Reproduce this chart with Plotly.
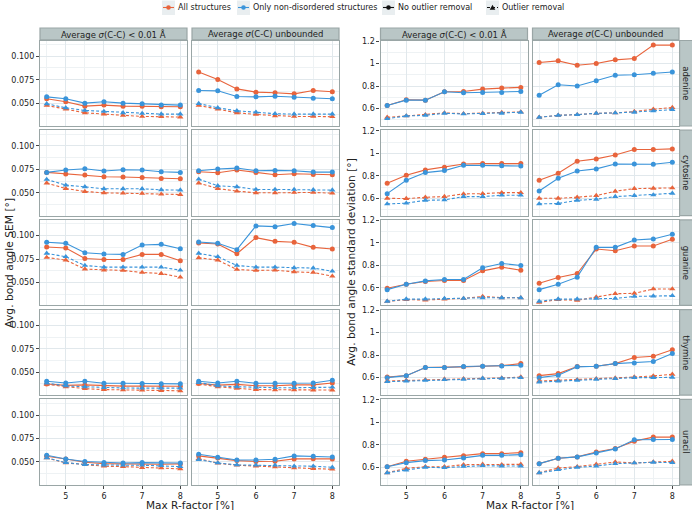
import plotly.graph_objects as go

# ---------------- data ----------------
r_factor = [4.5, 5, 5.5, 6, 6.5, 7, 7.5, 8]
x_ticks = [5, 6, 7, 8]
bases = ["adenine", "cytosine", "guanine", "thymine", "uracil"]
col_titles = ["Average <i>σ</i>(C-C) < 0.01 Å", "Average <i>σ</i>(C-C) unbounded"]
legend_labels = ["All structures", "Only non-disordered structures", "No outlier removal", "Outlier removal"]
sem_ticks = [0.050, 0.075, 0.100]
sd_ticks = [0.6, 0.8, 1.0, 1.2]
sd_ticktext = ["0.6", "0.8", "1", "1.2"]

# SEM: all structures / non-disordered ; raw (no outlier removal) / filt (outlier removal)
sem_ade_c1_all_raw = [0.0546, 0.0514, 0.0468, 0.0479, 0.0468, 0.0468, 0.0461, 0.0461]
sem_ade_c1_nd_raw = [0.0567, 0.0546, 0.0500, 0.0514, 0.0500, 0.0493, 0.0479, 0.0479]
sem_ade_c1_all_filt = [0.0475, 0.0436, 0.0397, 0.0383, 0.0369, 0.0358, 0.0355, 0.0351]
sem_ade_c1_nd_filt = [0.0493, 0.0450, 0.0422, 0.0411, 0.0397, 0.0390, 0.0383, 0.0383]
sem_ade_c2_all_raw = [0.0833, 0.0752, 0.0652, 0.0617, 0.0610, 0.0599, 0.0635, 0.0621]
sem_ade_c2_nd_raw = [0.0635, 0.0631, 0.0571, 0.0567, 0.0574, 0.0564, 0.0553, 0.0546]
sem_ade_c2_all_filt = [0.0475, 0.0436, 0.0397, 0.0379, 0.0365, 0.0358, 0.0358, 0.0355]
sem_ade_c2_nd_filt = [0.0496, 0.0450, 0.0418, 0.0404, 0.0387, 0.0383, 0.0383, 0.0383]

sem_cyt_c1_all_raw = [0.0718, 0.0700, 0.0689, 0.0671, 0.0668, 0.0664, 0.0654, 0.0650]
sem_cyt_c1_nd_raw = [0.0718, 0.0743, 0.0757, 0.0732, 0.0746, 0.0743, 0.0725, 0.0718]
sem_cyt_c1_all_filt = [0.0604, 0.0546, 0.0514, 0.0500, 0.0496, 0.0493, 0.0486, 0.0482]
sem_cyt_c1_nd_filt = [0.0643, 0.0582, 0.0564, 0.0543, 0.0543, 0.0543, 0.0532, 0.0529]
sem_cyt_c2_all_raw = [0.0725, 0.0714, 0.0743, 0.0718, 0.0693, 0.0704, 0.0696, 0.0693]
sem_cyt_c2_nd_raw = [0.0736, 0.0754, 0.0764, 0.0736, 0.0739, 0.0736, 0.0721, 0.0721]
sem_cyt_c2_all_filt = [0.0604, 0.0546, 0.0518, 0.0500, 0.0500, 0.0504, 0.0504, 0.0496]
sem_cyt_c2_nd_filt = [0.0646, 0.0575, 0.0564, 0.0536, 0.0536, 0.0536, 0.0532, 0.0529]

sem_gua_c1_all_raw = [0.0879, 0.0868, 0.0757, 0.0746, 0.0746, 0.0800, 0.0800, 0.0732]
sem_gua_c1_nd_raw = [0.0929, 0.0918, 0.0818, 0.0804, 0.0800, 0.0900, 0.0907, 0.0861]
sem_gua_c1_all_filt = [0.0768, 0.0739, 0.0643, 0.0632, 0.0629, 0.0607, 0.0596, 0.0557]
sem_gua_c1_nd_filt = [0.0811, 0.0775, 0.0682, 0.0664, 0.0664, 0.0664, 0.0664, 0.0632]
sem_gua_c2_all_raw = [0.0921, 0.0911, 0.0807, 0.0979, 0.0939, 0.0929, 0.0875, 0.0857]
sem_gua_c2_nd_raw = [0.0932, 0.0918, 0.0850, 0.1104, 0.1096, 0.1130, 0.1107, 0.1086]
sem_gua_c2_all_filt = [0.0764, 0.0739, 0.0639, 0.0629, 0.0632, 0.0614, 0.0607, 0.0568]
sem_gua_c2_nd_filt = [0.0811, 0.0775, 0.0682, 0.0664, 0.0664, 0.0657, 0.0654, 0.0621]

sem_thy_c1_all_raw = [0.0375, 0.0360, 0.0365, 0.0355, 0.0352, 0.0352, 0.0350, 0.0350]
sem_thy_c1_nd_raw = [0.0404, 0.0385, 0.0404, 0.0383, 0.0382, 0.0379, 0.0376, 0.0376]
sem_thy_c1_all_filt = [0.0370, 0.0345, 0.0325, 0.0315, 0.0312, 0.0310, 0.0305, 0.0302]
sem_thy_c1_nd_filt = [0.0385, 0.0355, 0.0345, 0.0335, 0.0332, 0.0330, 0.0330, 0.0330]
sem_thy_c2_all_raw = [0.0380, 0.0362, 0.0370, 0.0355, 0.0355, 0.0365, 0.0365, 0.0385]
sem_thy_c2_nd_raw = [0.0404, 0.0385, 0.0404, 0.0383, 0.0383, 0.0383, 0.0385, 0.0415]
sem_thy_c2_all_filt = [0.0375, 0.0345, 0.0328, 0.0315, 0.0313, 0.0312, 0.0310, 0.0310]
sem_thy_c2_nd_filt = [0.0390, 0.0355, 0.0345, 0.0338, 0.0335, 0.0335, 0.0335, 0.0340]

sem_ura_c1_all_raw = [0.0560, 0.0532, 0.0496, 0.0482, 0.0479, 0.0475, 0.0475, 0.0479]
sem_ura_c1_nd_raw = [0.0571, 0.0532, 0.0504, 0.0493, 0.0489, 0.0493, 0.0493, 0.0489]
sem_ura_c1_all_filt = [0.0543, 0.0489, 0.0472, 0.0454, 0.0450, 0.0440, 0.0436, 0.0426]
sem_ura_c1_nd_filt = [0.0543, 0.0493, 0.0472, 0.0465, 0.0465, 0.0465, 0.0461, 0.0450]
sem_ura_c2_all_raw = [0.0564, 0.0543, 0.0514, 0.0504, 0.0507, 0.0532, 0.0535, 0.0532]
sem_ura_c2_nd_raw = [0.0582, 0.0550, 0.0521, 0.0521, 0.0528, 0.0564, 0.0560, 0.0553]
sem_ura_c2_all_filt = [0.0535, 0.0486, 0.0465, 0.0454, 0.0447, 0.0436, 0.0429, 0.0422]
sem_ura_c2_nd_filt = [0.0525, 0.0489, 0.0468, 0.0465, 0.0465, 0.0454, 0.0454, 0.0443]

# standard deviation
sd_ade_c1_all_raw = [0.627, 0.678, 0.675, 0.749, 0.752, 0.773, 0.782, 0.788]
sd_ade_c1_nd_raw = [0.627, 0.675, 0.675, 0.749, 0.740, 0.743, 0.743, 0.752]
sd_ade_c1_all_filt = [0.522, 0.534, 0.546, 0.561, 0.555, 0.558, 0.564, 0.570]
sd_ade_c1_nd_filt = [0.510, 0.534, 0.540, 0.558, 0.552, 0.555, 0.558, 0.567]
sd_ade_c2_all_raw = [1.009, 1.024, 0.985, 1.000, 1.033, 1.045, 1.164, 1.164]
sd_ade_c2_nd_raw = [0.719, 0.812, 0.800, 0.848, 0.896, 0.901, 0.913, 0.925]
sd_ade_c2_all_filt = [0.522, 0.540, 0.546, 0.558, 0.561, 0.573, 0.594, 0.609]
sd_ade_c2_nd_filt = [0.522, 0.540, 0.546, 0.558, 0.561, 0.567, 0.579, 0.591]

sd_cyt_c1_all_raw = [0.733, 0.804, 0.852, 0.876, 0.905, 0.908, 0.908, 0.908]
sd_cyt_c1_nd_raw = [0.641, 0.760, 0.828, 0.846, 0.893, 0.893, 0.890, 0.887]
sd_cyt_c1_all_filt = [0.600, 0.597, 0.609, 0.615, 0.639, 0.641, 0.650, 0.650]
sd_cyt_c1_nd_filt = [0.550, 0.556, 0.582, 0.585, 0.615, 0.615, 0.627, 0.627]
sd_cyt_c2_all_raw = [0.760, 0.822, 0.929, 0.950, 0.985, 1.033, 1.033, 1.039]
sd_cyt_c2_nd_raw = [0.665, 0.778, 0.843, 0.861, 0.905, 0.905, 0.902, 0.920]
sd_cyt_c2_all_filt = [0.600, 0.600, 0.609, 0.624, 0.662, 0.686, 0.689, 0.692]
sd_cyt_c2_nd_filt = [0.550, 0.553, 0.582, 0.591, 0.615, 0.624, 0.630, 0.644]

sd_gua_c1_all_raw = [0.597, 0.633, 0.657, 0.666, 0.666, 0.752, 0.785, 0.758]
sd_gua_c1_nd_raw = [0.585, 0.633, 0.663, 0.675, 0.675, 0.779, 0.818, 0.800]
sd_gua_c1_all_filt = [0.481, 0.496, 0.493, 0.501, 0.507, 0.525, 0.513, 0.513]
sd_gua_c1_nd_filt = [0.481, 0.501, 0.501, 0.507, 0.507, 0.513, 0.513, 0.513]
sd_gua_c2_all_raw = [0.642, 0.693, 0.728, 0.946, 0.931, 0.973, 0.973, 1.033]
sd_gua_c2_nd_raw = [0.585, 0.633, 0.696, 0.961, 0.961, 1.027, 1.036, 1.078]
sd_gua_c2_all_filt = [0.472, 0.496, 0.490, 0.519, 0.549, 0.552, 0.591, 0.591]
sd_gua_c2_nd_filt = [0.481, 0.501, 0.501, 0.507, 0.507, 0.525, 0.528, 0.531]

sd_thy_c1_all_raw = [0.606, 0.618, 0.690, 0.690, 0.696, 0.701, 0.707, 0.725]
sd_thy_c1_nd_raw = [0.600, 0.618, 0.690, 0.690, 0.699, 0.701, 0.704, 0.710]
sd_thy_c1_all_filt = [0.570, 0.576, 0.582, 0.588, 0.591, 0.594, 0.597, 0.606]
sd_thy_c1_nd_filt = [0.564, 0.570, 0.576, 0.582, 0.585, 0.594, 0.594, 0.600]
sd_thy_c2_all_raw = [0.618, 0.636, 0.699, 0.701, 0.725, 0.779, 0.791, 0.848]
sd_thy_c2_nd_raw = [0.600, 0.621, 0.696, 0.701, 0.725, 0.731, 0.743, 0.815]
sd_thy_c2_all_filt = [0.570, 0.576, 0.582, 0.591, 0.597, 0.606, 0.615, 0.630]
sd_thy_c2_nd_filt = [0.561, 0.570, 0.576, 0.585, 0.591, 0.600, 0.600, 0.603]

sd_ura_c1_all_raw = [0.606, 0.654, 0.672, 0.690, 0.704, 0.722, 0.722, 0.731]
sd_ura_c1_nd_raw = [0.606, 0.642, 0.660, 0.666, 0.684, 0.707, 0.707, 0.713]
sd_ura_c1_all_filt = [0.552, 0.591, 0.606, 0.606, 0.624, 0.627, 0.624, 0.627]
sd_ura_c1_nd_filt = [0.552, 0.576, 0.600, 0.597, 0.609, 0.615, 0.612, 0.612]
sd_ura_c2_all_raw = [0.633, 0.681, 0.693, 0.737, 0.767, 0.833, 0.869, 0.869]
sd_ura_c2_nd_raw = [0.633, 0.681, 0.693, 0.728, 0.764, 0.845, 0.848, 0.848]
sd_ura_c2_all_filt = [0.552, 0.594, 0.606, 0.627, 0.648, 0.639, 0.648, 0.654]
sd_ura_c2_nd_filt = [0.552, 0.579, 0.600, 0.612, 0.633, 0.639, 0.645, 0.642]

# ---------------- assemble ----------------
G = globals()
abbr = ["ade", "cyt", "gua", "thy", "ura"]
metrics = ["sem", "sd"]

W, H = 692, 510
FONT = "DejaVu Sans"
ORANGE = "#E8643C"
BLUE = "#3A94DA"
BORDER = "#9aa6a6"
STRIP = "#b9c6c6"
GRID = "#e1e8ec"
GRID_MINOR = "#eef2f4"
TXT = "#222222"
KEYBG = "#e9eef0"
TICKSIZE = 8

panel_x = [[(40, 187), (192, 339)], [(380.5, 527.5), (532.5, 679)]]
row_top0, row_h, row_pitch = 40.5, 85.5, 89.7


def px(v):
    return v / W


def py(v):
    return 1 - v / H


def note(x, y, text, size, angle=0, xanchor="center"):
    return dict(x=px(x), y=py(y), xref="paper", yref="paper", text=text, showarrow=False,
                xanchor=xanchor, yanchor="middle", textangle=angle, borderpad=0,
                font=dict(size=size, color=TXT, family=FONT))


fig = go.Figure()
layout = {}
shapes = []
annotations = []

series_style = [
    ("all", "raw", ORANGE, "solid", "circle"),
    ("nd", "raw", BLUE, "solid", "circle"),
    ("all", "filt", ORANGE, "3px,2px", "triangle-up"),
    ("nd", "filt", BLUE, "3px,2px", "triangle-up"),
]

for p, metric in enumerate(metrics):
    for r in range(5):
        for c in range(2):
            k = p * 10 + r * 2 + c + 1
            xs = "x" if k == 1 else f"x{k}"
            ys = "y" if k == 1 else f"y{k}"
            xa = "xaxis" if k == 1 else f"xaxis{k}"
            ya = "yaxis" if k == 1 else f"yaxis{k}"
            x0, x1 = panel_x[p][c]
            top = row_top0 + r * row_pitch
            bot = top + row_h
            for struct, outl, color, dash, sym in series_style:
                vals = G[f"{metric}_{abbr[r]}_c{c+1}_{struct}_{outl}"]
                fig.add_trace(go.Scatter(
                    x=r_factor, y=vals, xaxis=xs, yaxis=ys, mode="lines+markers",
                    line=dict(color=color, width=1.1, dash=dash),
                    marker=dict(color=color, size=5 if sym == "circle" else 5.5, symbol=sym),
                    showlegend=False, hoverinfo="skip"))
            bottom = (r == 4)
            layout[xa] = dict(
                domain=[px(x0), px(x1)], anchor=ys, range=[4.325, 8.175], automargin=False,
                tickvals=x_ticks, showticklabels=bottom,
                ticks="outside" if bottom else "", ticklen=3, tickcolor="#444", tickwidth=1,
                tickfont=dict(size=TICKSIZE, color=TXT, family=FONT),
                showgrid=True, gridcolor=GRID, gridwidth=1,
                minor=dict(showgrid=True, gridcolor=GRID_MINOR, tickvals=[4.5, 5.5, 6.5, 7.5], ticks=""),
                showline=True, mirror=True, linecolor=BORDER, linewidth=1.3, zeroline=False)
            left = (c == 0)
            if metric == "sem":
                yr = [0.0256, 0.1168]
                yt = dict(tickvals=sem_ticks, ticktext=[f"{v:.3f}" for v in sem_ticks])
                ym = [0.0375, 0.0625, 0.0875, 0.1125]
            else:
                yr = [0.445, 1.205]
                yt = dict(tickvals=sd_ticks, ticktext=sd_ticktext)
                ym = [0.5, 0.7, 0.9, 1.1]
            layout[ya] = dict(
                domain=[py(bot), py(top)], anchor=xs, range=yr, automargin=False, **yt,
                showticklabels=left, ticks="outside" if left else "", ticklen=3, tickcolor="#444", tickwidth=1,
                tickfont=dict(size=TICKSIZE, color=TXT, family=FONT),
                showgrid=True, gridcolor=GRID, gridwidth=1,
                minor=dict(showgrid=True, gridcolor=GRID_MINOR, tickvals=ym, ticks=""),
                showline=True, mirror=True, linecolor=BORDER, linewidth=1.3, zeroline=False)
            # column strips
            if r == 0:
                shapes.append(dict(type="rect", xref="paper", yref="paper",
                                   x0=px(x0), x1=px(x1), y0=py(top - 0.6), y1=py(28),
                                   fillcolor=STRIP, line=dict(color=BORDER, width=1.2), layer="below"))
                annotations.append(note((x0 + x1) / 2, 34.3, col_titles[c], 8.5))
            # row strips on the right panel
            if p == 1 and c == 1:
                shapes.append(dict(type="rect", xref="paper", yref="paper",
                                   x0=px(x1 + 0.6), x1=px(693), y0=py(bot), y1=py(top),
                                   fillcolor=STRIP, line=dict(color=BORDER, width=1.2), layer="below"))
                annotations.append(note(686, (top + bot) / 2, bases[r], 8.5, angle=90))

# manual legend (ggplot-style keys with grey backgrounds)
legend_specs = [
    (legend_labels[0], ORANGE, "solid", "circle", 162),
    (legend_labels[1], BLUE, "solid", "circle", 237),
    (legend_labels[2], "#111111", "solid", "circle", 382),
    (legend_labels[3], "#111111", "dash", "triangle", 486),
]
ky = 7.5
for name, color, dash, sym, kx in legend_specs:
    shapes.append(dict(type="rect", xref="paper", yref="paper", x0=px(kx), x1=px(kx + 13),
                       y0=py(15), y1=py(0.5), fillcolor=KEYBG, line=dict(width=0)))
    shapes.append(dict(type="line", xref="paper", yref="paper", x0=px(kx + 1), x1=px(kx + 12),
                       y0=py(ky), y1=py(ky), line=dict(color=color, width=1.1,
                                                       dash="3px,2px" if dash == "dash" else "solid")))
    cx = kx + 6.5
    if sym == "circle":
        shapes.append(dict(type="circle", xref="paper", yref="paper", x0=px(cx - 2.3), x1=px(cx + 2.3),
                           y0=py(ky + 2.3), y1=py(ky - 2.3), fillcolor=color, line=dict(width=0)))
    else:
        path = (f"M {px(cx - 2.8)},{py(ky + 2.2)} L {px(cx + 2.8)},{py(ky + 2.2)} "
                f"L {px(cx)},{py(ky - 2.8)} Z")
        shapes.append(dict(type="path", xref="paper", yref="paper", path=path,
                           fillcolor=color, line=dict(width=0)))
    annotations.append(note(kx + 15, ky, name, 8, xanchor="left"))

# axis titles
y_mid = (row_top0 + row_top0 + 4 * row_pitch + row_h) / 2
annotations.append(note(10, y_mid, "Avg. bond angle SEM [°]", 10.7, angle=-90))
annotations.append(note(352, y_mid, "Avg. bond angle standard deviation [°]", 10.7, angle=-90))
annotations.append(note((40 + 339) / 2, 505, "Max R-factor [%]", 10.5))
annotations.append(note((380.5 + 679) / 2, 505, "Max R-factor [%]", 10.5))

fig.update_layout(
    template="none",
    width=W, height=H, margin=dict(l=0, r=0, t=0, b=0, autoexpand=False),
    paper_bgcolor="white", plot_bgcolor="white",
    font=dict(family=FONT, size=10, color=TXT),
    showlegend=False,
    shapes=shapes, annotations=annotations,
    **layout)

fig.write_html("out.html", config={"displayModeBar": False},
               post_script="document.body.style.margin='0px';document.body.style.overflow='hidden';")
